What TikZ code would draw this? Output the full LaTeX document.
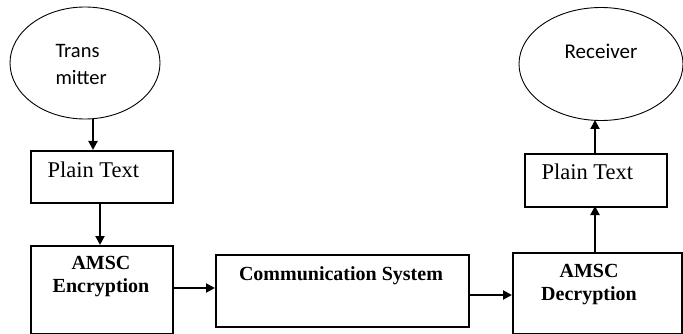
\documentclass[tikz,border=0pt]{standalone}
\usepackage{fontspec}
\setmainfont{Liberation Serif}
\newfontfamily\calib{Carlito}
\usetikzlibrary{shapes.geometric,arrows.meta}
\begin{document}
\begin{tikzpicture}[x=1pt,y=-1pt,
  ell/.style={draw,ellipse,line width=0.9pt,inner sep=0pt},
  blk/.style={draw,line width=2pt,inner sep=0pt,anchor=north west},
  arr/.style={line width=2pt,-{Triangle[length=9pt,width=9pt]}},
  lbl/.style={font=\fontsize{20}{23}\selectfont\bfseries,align=center},
  ptxt/.style={font=\fontsize{22.5}{26}\selectfont,anchor=base west}]
\useasboundingbox (0,0) rectangle (683,334);
% ellipses
\node[ell,minimum width=150pt,minimum height=112pt] (tx) at (85,63) {};
\node[ell,minimum width=164pt,minimum height=113pt] (rx) at (601,64) {};
\node[font=\calib\fontsize{20.5}{27}\selectfont,align=left,anchor=base west] at (52,85) {Trans\\mitter};
\node[font=\calib\fontsize{21}{24}\selectfont,anchor=base] at (601,59) {Receiver};
% boxes
\node[blk,minimum width=142pt,minimum height=52pt] (pt1) at (30,150) {};
\node[ptxt] at (44,178) {Plain Text};
\node[blk,minimum width=142pt,minimum height=88pt] (enc) at (30,245) {};
\node[lbl,anchor=base] at (101,292) {AMSC\\Encryption};
\node[blk,minimum width=253pt,minimum height=72pt] (com) at (215,254) {};
\node[lbl,anchor=base] at (341,280) {Communication System};
\node[blk,minimum width=169pt,minimum height=81pt] (dec) at (512,252) {};
\node[lbl,anchor=base] at (589,300) {AMSC\\Decryption};
\node[blk,minimum width=142pt,minimum height=53pt] (pt2) at (524,153) {};
\node[ptxt] at (538,179) {Plain Text};
% arrows
\draw[arr] (93,119) -- (93,150);
\draw[arr] (100,202) -- (100,245);
\draw[arr] (172,288) -- (215,288);
\draw[arr] (468,295) -- (512,295);
\draw[arr] (595,252) -- (595,206);
\draw[arr] (595,153) -- (595,120);
\end{tikzpicture}
\end{document}
